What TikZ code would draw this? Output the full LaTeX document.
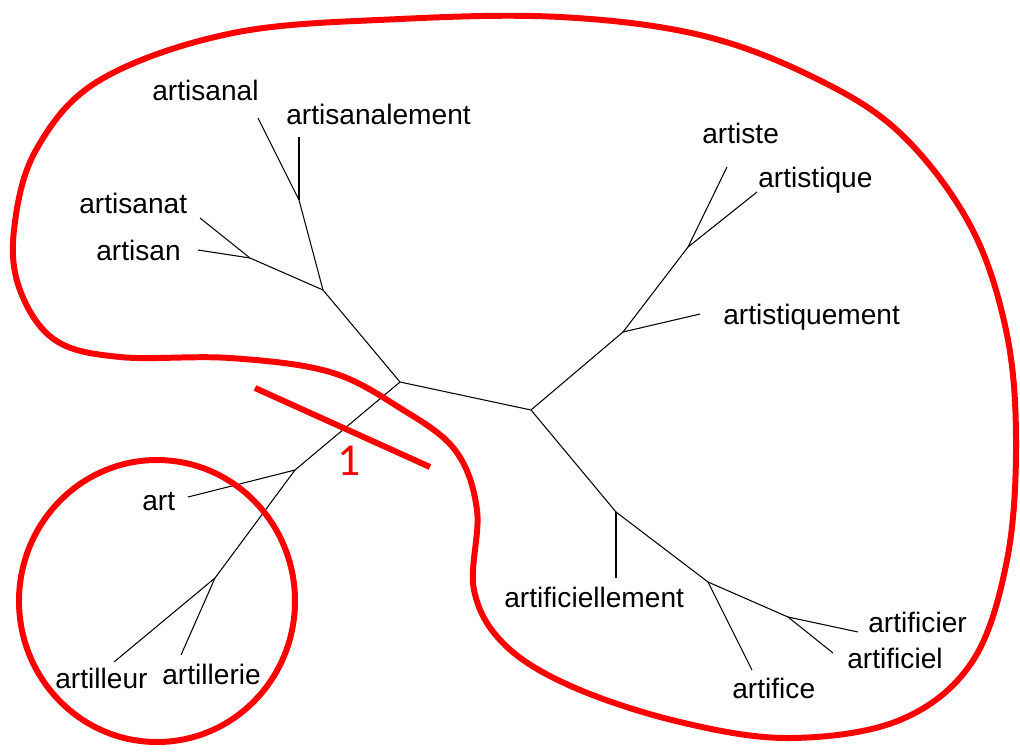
\documentclass[tikz,border=0pt]{standalone}
\usepackage{fontspec}
\setmainfont{Liberation Sans}
\newfontfamily\numfont{Carlito}
\begin{document}
\begin{tikzpicture}[x=0.02cm,y=-0.02cm,
  edge/.style={draw=black,line width=0.6pt},
  lbl/.style={inner sep=0pt,anchor=base west,font=\fontsize{16}{18}\selectfont},
  redmark/.style={draw=red,line width=3.4pt}]
\useasboundingbox (0,0) rectangle (1020,751);
% junctions
\coordinate (A) at (400,382);
\coordinate (B) at (531,410);
\coordinate (C) at (323,290);
\coordinate (D) at (299,200);
\coordinate (E) at (250,258);
\coordinate (F) at (623,332);
\coordinate (G) at (688,247);
\coordinate (H) at (295,470);
\coordinate (I) at (215,578);
\coordinate (J) at (616,512);
\coordinate (K) at (708,582);
\coordinate (L) at (788,617);
% leaf ends
\coordinate (e1) at (258,118);
\coordinate (e2) at (299,137);
\coordinate (e3) at (200,218);
\coordinate (e4) at (198,250);
\coordinate (e5) at (700,314);
\coordinate (e6) at (727,167);
\coordinate (e7) at (757,192);
\coordinate (e8) at (188,497);
\coordinate (e9) at (114,662);
\coordinate (e10) at (181,655);
\coordinate (e11) at (616,578);
\coordinate (e12) at (752,670);
\coordinate (e13) at (858,632);
\coordinate (e14) at (833,653);
% labels
\node[lbl] (artisanal) at (152,100) {artisanal};
\node[lbl] (artisanalement) at (286,124) {artisanalement};
\node[lbl] (artisanat) at (79,213) {artisanat};
\node[lbl] (artisan) at (96,260) {artisan};
\node[lbl] (artiste) at (702,143) {artiste};
\node[lbl] (artistique) at (758,187) {artistique};
\node[lbl] (artistiquement) at (723,324) {artistiquement};
\node[lbl] (art) at (142,510) {art};
\node[lbl] (artilleur) at (55,688) {artilleur};
\node[lbl] (artillerie) at (162,684) {artillerie};
\node[lbl] (artificiellement) at (504,607) {artificiellement};
\node[lbl] (artificier) at (868,632) {artificier};
\node[lbl] (artificiel) at (847,668) {artificiel};
\node[lbl] (artifice) at (732,698) {artifice};
% tree
\draw[edge] (A) -- (B);
\draw[edge] (A) -- (C);
\draw[edge] (C) -- (D);
\draw[edge] (D) -- (e1);
\draw[edge] (D) -- (e2);
\draw[edge] (C) -- (E);
\draw[edge] (E) -- (e3);
\draw[edge] (E) -- (e4);
\draw[edge] (B) -- (F);
\draw[edge] (F) -- (e5);
\draw[edge] (F) -- (G);
\draw[edge] (G) -- (e6);
\draw[edge] (G) -- (e7);
\draw[edge] (A) -- (H);
\draw[edge] (H) -- (e8);
\draw[edge] (H) -- (I);
\draw[edge] (I) -- (e9);
\draw[edge] (I) -- (e10);
\draw[edge] (B) -- (J);
\draw[edge] (J) -- (e11);
\draw[edge] (J) -- (K);
\draw[edge] (K) -- (e12);
\draw[edge] (K) -- (L);
\draw[edge] (L) -- (e13);
\draw[edge] (L) -- (e14);
% red marks
\draw[redmark] plot[smooth cycle,tension=0.6] coordinates {
 (560,17) (700,35) (813,77) (900,133) (970,225) (1006,330) (1016,440)
 (1007,560) (972,662) (900,720) (790,738) (680,722) (573,687) (505,645)
 (474,590) (477,510) (455,450) (400,408) (330,372) (230,358) (120,357)
 (55,340) (20,290) (14,230) (36,150) (100,80) (233,33) (400,19)};
\draw[redmark] (157,601) ellipse [x radius=138, y radius=141];
\coordinate (c1) at (255,388);
\coordinate (c2) at (430,467);
\draw[redmark] (c1) -- (c2);
\node[inner sep=0pt,anchor=base,text=red,font=\numfont\fontsize{26}{28}\selectfont] (one) at (349,475) {1};
\end{tikzpicture}
\end{document}
